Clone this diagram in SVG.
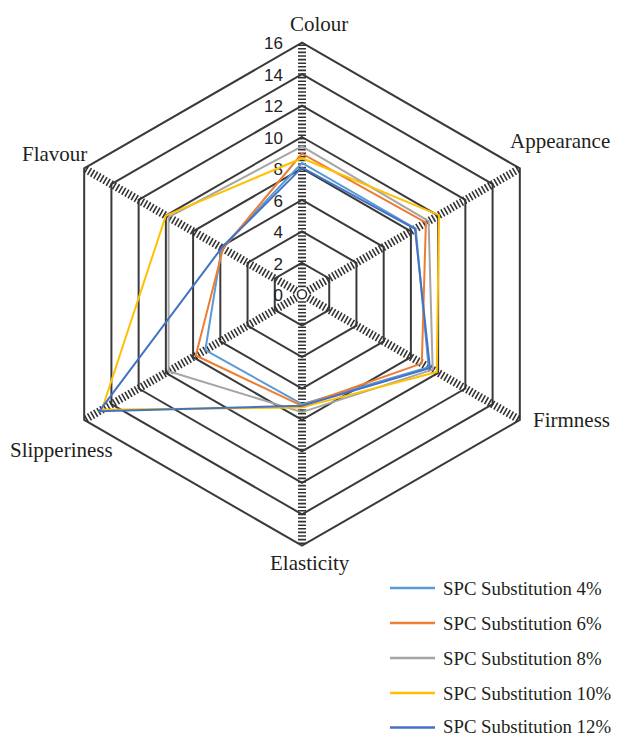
<svg xmlns="http://www.w3.org/2000/svg" width="618" height="738" viewBox="0 0 618 738">
<style>
.ring{fill:none;stroke:#3a3a3a;stroke-width:2;stroke-linejoin:miter}
.axis{stroke:#333;stroke-width:8;stroke-dasharray:1.6 2}
.ser{fill:none;stroke-width:2;stroke-linejoin:round}
.lab{font-family:"Liberation Serif","Times New Roman",serif;font-size:21px;fill:#231f20}
.tick{font-family:"Liberation Sans",Arial,sans-serif;font-size:17px;fill:#222;text-anchor:end}
.leg{font-family:"Liberation Serif","Times New Roman",serif;font-size:18.8px;fill:#231f20}
.ll{stroke-width:2.5}
</style>
<rect width="618" height="738" fill="#fff"/>
<g id="grid" transform="translate(302,294.2)">
<polygon class="ring" points="0,-31.44 27.23,-15.72 27.23,15.72 0,31.44 -27.23,15.72 -27.23,-15.72"/>
<polygon class="ring" points="0,-62.88 54.45,-31.44 54.45,31.44 0,62.88 -54.45,31.44 -54.45,-31.44"/>
<polygon class="ring" points="0,-94.32 81.68,-47.16 81.68,47.16 0,94.32 -81.68,47.16 -81.68,-47.16"/>
<polygon class="ring" points="0,-125.76 108.91,-62.88 108.91,62.88 0,125.76 -108.91,62.88 -108.91,-62.88"/>
<polygon class="ring" points="0,-157.2 136.14,-78.6 136.14,78.6 0,157.2 -136.14,78.6 -136.14,-78.6"/>
<polygon class="ring" points="0,-188.64 163.36,-94.32 163.36,94.32 0,188.64 -163.36,94.32 -163.36,-94.32"/>
<polygon class="ring" points="0,-220.08 190.59,-110.04 190.59,110.04 0,220.08 -190.59,110.04 -190.59,-110.04"/>
<polygon class="ring" points="0,-251.52 217.82,-125.76 217.82,125.76 0,251.52 -217.82,125.76 -217.82,-125.76"/>
<circle cx="0" cy="0" r="4.5" fill="none" stroke="#333" stroke-width="1.6"/>
</g>
<g id="axes" transform="translate(302,294.2)">
<line class="axis" x1="0" y1="-7" x2="0" y2="-251.52"/>
<line class="axis" x1="6.06" y1="-3.5" x2="217.82" y2="-125.76"/>
<line class="axis" x1="6.06" y1="3.5" x2="217.82" y2="125.76"/>
<line class="axis" x1="0" y1="7" x2="0" y2="251.52"/>
<line class="axis" x1="-6.06" y1="3.5" x2="-217.82" y2="125.76"/>
<line class="axis" x1="-6.06" y1="-3.5" x2="-217.82" y2="-125.76"/>
</g>
<g id="tick-labels">
<text class="tick" x="283" y="49">16</text>
<text class="tick" x="283" y="80.5">14</text>
<text class="tick" x="283" y="112">12</text>
<text class="tick" x="283" y="143.5">10</text>
<text class="tick" x="283" y="175">8</text>
<text class="tick" x="283" y="206.5">6</text>
<text class="tick" x="283" y="238">4</text>
<text class="tick" x="283" y="269.5">2</text>
<text class="tick" x="283" y="301">0</text>
</g>
<g id="series" transform="translate(302,294.2)">
<polygon id="s4" class="ser" stroke="#5b9bd5" points="0,-131.26 113.68,-65.63 126.61,73.1 0,110.04 -96.66,55.81 -80.32,-46.37"/>
<polygon id="s6" class="ser" stroke="#ed7d31" points="0,-140.69 123.89,-71.53 119.8,69.17 0,111.61 -106.19,61.31 -78.96,-45.59"/>
<polygon id="s8" class="ser" stroke="#a5a5a5" points="0,-147.77 126.61,-73.1 130.69,75.46 0,117.9 -133.42,77.03 -133.42,-77.03"/>
<polygon id="s10" class="ser" stroke="#ffc000" points="0,-135.98 136.96,-79.07 134.78,77.81 0,113.18 -200.13,115.54 -136.14,-78.6"/>
<polygon id="s12" class="ser" stroke="#4472c4" points="0,-126.55 113,-65.24 127.97,73.88 0,111.61 -202.85,117.11 -80.32,-46.37"/>
</g>
<g id="axis-labels">
<text class="lab" x="290" y="31">Colour</text>
<text class="lab" x="510" y="148">Appearance</text>
<text class="lab" x="533" y="427">Firmness</text>
<text class="lab" x="270" y="570">Elasticity</text>
<text class="lab" x="10" y="457">Slipperiness</text>
<text class="lab" x="22" y="161">Flavour</text>
</g>
<g id="legend">
<line class="ll" x1="390" y1="588" x2="435" y2="588" stroke="#5b9bd5"/>
<text class="leg" x="443" y="594.5">SPC Substitution 4%</text>
<line class="ll" x1="390" y1="623" x2="435" y2="623" stroke="#ed7d31"/>
<text class="leg" x="443" y="629.5">SPC Substitution 6%</text>
<line class="ll" x1="390" y1="658" x2="435" y2="658" stroke="#a5a5a5"/>
<text class="leg" x="443" y="664.5">SPC Substitution 8%</text>
<line class="ll" x1="390" y1="693" x2="435" y2="693" stroke="#ffc000"/>
<text class="leg" x="443" y="699.5">SPC Substitution 10%</text>
<line class="ll" x1="390" y1="727.5" x2="435" y2="727.5" stroke="#4472c4"/>
<text class="leg" x="443" y="733">SPC Substitution 12%</text>
</g>
</svg>
